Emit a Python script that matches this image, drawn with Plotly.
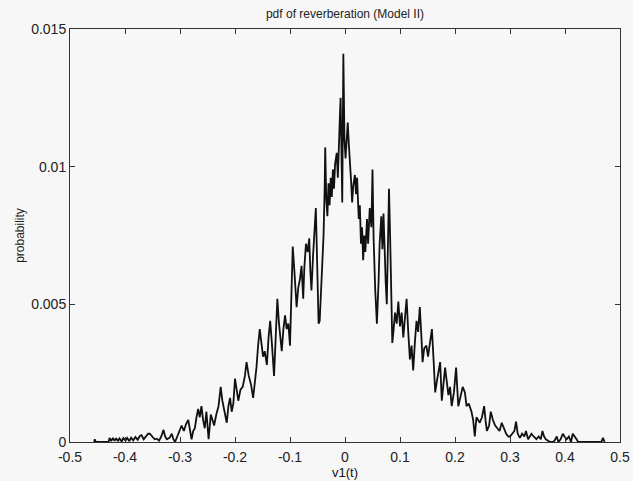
import plotly.graph_objects as go

# Estimated pdf samples (v1(t), probability)
v1 = [
    -0.456, -0.455, -0.453, -0.430, -0.428, -0.425, -0.422, -0.419, -0.416, -0.413,
    -0.410, -0.406, -0.403, -0.399, -0.396, -0.392, -0.389, -0.385, -0.381, -0.377,
    -0.373, -0.370, -0.366, -0.362, -0.358, -0.355, -0.351, -0.346, -0.342, -0.338,
    -0.334, -0.330, -0.327, -0.324, -0.319, -0.315, -0.312, -0.309, -0.305, -0.301,
    -0.297, -0.293, -0.289, -0.285, -0.282, -0.279, -0.276, -0.273, -0.270, -0.267,
    -0.264, -0.261, -0.258, -0.255, -0.252, -0.248, -0.244, -0.241, -0.238, -0.234,
    -0.230, -0.226, -0.223, -0.219, -0.215, -0.212, -0.209, -0.206, -0.203, -0.200,
    -0.197, -0.194, -0.190, -0.186, -0.182, -0.179, -0.175, -0.171, -0.167, -0.164,
    -0.161, -0.158, -0.155, -0.152, -0.149, -0.146, -0.142, -0.139, -0.136, -0.133,
    -0.129, -0.126, -0.123, -0.120, -0.117, -0.115, -0.112, -0.109, -0.106, -0.103,
    -0.100, -0.097, -0.095, -0.092, -0.090, -0.088, -0.085, -0.082, -0.079, -0.076,
    -0.074, -0.071, -0.068, -0.065, -0.063, -0.061, -0.058, -0.055, -0.053, -0.051,
    -0.048, -0.046, -0.043, -0.041, -0.039, -0.037, -0.036, -0.034, -0.032, -0.030,
    -0.028, -0.026, -0.024, -0.022, -0.020, -0.018, -0.015, -0.013, -0.011, -0.009,
    -0.008, -0.006, -0.005, -0.003, -0.001, 0.001, 0.003, 0.005, 0.007, 0.009,
    0.011, 0.013, 0.015, 0.018, 0.020, 0.022, 0.025, 0.027, 0.029, 0.031,
    0.033, 0.035, 0.037, 0.040, 0.042, 0.045, 0.048, 0.050, 0.052, 0.055,
    0.058, 0.061, 0.063, 0.066, 0.068, 0.070, 0.072, 0.074, 0.076, 0.078,
    0.080, 0.082, 0.084, 0.086, 0.088, 0.091, 0.094, 0.097, 0.100, 0.103,
    0.106, 0.109, 0.112, 0.115, 0.118, 0.121, 0.124, 0.127, 0.130, 0.133,
    0.136, 0.139, 0.141, 0.144, 0.148, 0.151, 0.155, 0.158, 0.161, 0.164,
    0.167, 0.170, 0.173, 0.176, 0.179, 0.182, 0.185, 0.188, 0.191, 0.194,
    0.198, 0.202, 0.206, 0.210, 0.214, 0.218, 0.221, 0.225, 0.230, 0.233,
    0.236, 0.239, 0.242, 0.245, 0.249, 0.253, 0.256, 0.258, 0.262, 0.265,
    0.269, 0.273, 0.277, 0.281, 0.285, 0.289, 0.293, 0.297, 0.300, 0.304,
    0.308, 0.311, 0.314, 0.318, 0.322, 0.326, 0.329, 0.333, 0.336, 0.339,
    0.343, 0.348, 0.352, 0.356, 0.359, 0.362, 0.365, 0.369, 0.373, 0.378,
    0.381, 0.385, 0.388, 0.392, 0.396, 0.399, 0.403, 0.407, 0.411, 0.414,
    0.418, 0.421, 0.424, 0.466, 0.469, 0.472,
]
probability = [
    0.0, 0.0001, 0.0, 0.0, 0.00015, 0.00003, 0.00015, 0.00004, 0.00014, 0.00003,
    0.00013, 0.00002, 0.00014, 0.00005, 0.00015, 0.00003, 0.00016, 0.00006, 0.00018, 0.00008,
    0.00022, 0.00025, 0.0001, 0.0002, 0.0003, 0.0003, 0.00022, 0.0001, 0.00012, 0.00005,
    0.0002, 0.00044, 0.0002, 0.0001, 0.00015, 0.0003, 0.0001, 0.0, 0.0002, 0.0004,
    0.0006, 0.0004, 0.00065, 0.0008, 0.0004, 0.0001, 0.0004, 0.0005, 0.0009, 0.0012,
    0.0009, 0.0013, 0.0008, 0.0005, 0.0011, 0.0001, 0.001, 0.0008, 0.0006, 0.001,
    0.0013, 0.002, 0.0015, 0.0011, 0.0007, 0.0013, 0.0016, 0.0011, 0.0014, 0.0023,
    0.0018, 0.0015, 0.0019, 0.002, 0.0024, 0.0029, 0.0024, 0.0021, 0.0016, 0.0021,
    0.0027, 0.0035, 0.0041, 0.0036, 0.0031, 0.0033, 0.0028, 0.0038, 0.0044, 0.0036,
    0.0024, 0.0038, 0.0052, 0.0043, 0.0036, 0.0033, 0.0041, 0.0046, 0.0041, 0.0043,
    0.0035, 0.0058, 0.0071, 0.0062, 0.0055, 0.0049, 0.0056, 0.0059, 0.0064, 0.0052,
    0.0063, 0.0072, 0.0069, 0.0074, 0.0062, 0.0055, 0.0068, 0.0079, 0.0085, 0.0068,
    0.0043, 0.0044, 0.0058, 0.0069, 0.0075, 0.0092, 0.0107, 0.0088, 0.0082, 0.0094,
    0.0086, 0.0096, 0.0089, 0.0099, 0.0092, 0.0101, 0.0105, 0.0096, 0.0112, 0.0120,
    0.0125, 0.0100, 0.0087, 0.0141, 0.0110, 0.0103, 0.0112, 0.0116, 0.0108, 0.0103,
    0.0095, 0.0087, 0.0093, 0.0097, 0.0090, 0.0096, 0.0081, 0.0086, 0.0072, 0.0078,
    0.0066, 0.0075, 0.0069, 0.0081, 0.0072, 0.0085, 0.0078, 0.0099, 0.0074, 0.0055,
    0.0043, 0.0058, 0.0072, 0.0082, 0.0070, 0.0083, 0.0065, 0.0058, 0.0050, 0.0072,
    0.0092, 0.0075, 0.0048, 0.0036, 0.0040, 0.0047, 0.0043, 0.0051, 0.0042, 0.0047,
    0.0038, 0.0045, 0.0052, 0.0040, 0.0030, 0.0035, 0.0026, 0.0036, 0.0044, 0.0040,
    0.0049, 0.0038, 0.0029, 0.0034, 0.0035, 0.0031, 0.0036, 0.0041, 0.0030, 0.0018,
    0.0022, 0.0026, 0.0029, 0.0015, 0.0021, 0.0027, 0.0022, 0.0017, 0.0020, 0.0013,
    0.0018, 0.0027, 0.0013, 0.0017, 0.0020, 0.0018, 0.0013, 0.0014, 0.0011, 0.0008,
    0.0002, 0.0009, 0.0008, 0.0007, 0.0009, 0.0013, 0.0007, 0.0004, 0.0006, 0.0011,
    0.0008, 0.0006, 0.0005, 0.0004, 0.0007, 0.0005, 0.0003, 0.0002, 0.0002, 0.0003,
    0.0004, 0.00074, 0.0003, 0.00015, 0.0003, 0.0002, 0.0004, 0.0001, 0.0002, 0.0003,
    0.0002, 0.0001, 0.0002, 0.0001, 0.0004, 0.0002, 0.0001, 0.00005, 0.0, 0.0,
    0.00005, 0.0002, 0.0, 0.0001, 0.0003, 0.0002, 0.0001, 0.0002, 0.0, 0.0003,
    0.0002, 0.0001, 0.0, 0.0, 0.00015, 0.0,
]

x_ticks = [-0.5, -0.4, -0.3, -0.2, -0.1, 0, 0.1, 0.2, 0.3, 0.4, 0.5]
x_tick_text = ["-0.5", "-0.4", "-0.3", "-0.2", "-0.1", "0", "0.1", "0.2", "0.3", "0.4", "0.5"]
y_ticks = [0, 0.005, 0.01, 0.015]
y_tick_text = ["0", "0.005", "0.01", "0.015"]

FONT = "Liberation Sans, Arial, Helvetica, sans-serif"
BG = "#f7f7f7"

fig = go.Figure()
fig.add_trace(go.Scatter(x=v1, y=probability, mode="lines",
                         line=dict(color="#111111", width=1.8),
                         showlegend=False, hoverinfo="skip"))

axis_common = dict(showline=True, linecolor="#333333", linewidth=1, mirror="ticks",
                   ticks="inside", ticklen=5, tickcolor="#333333", tickwidth=1,
                   showgrid=False, zeroline=False, automargin=False,
                   tickfont=dict(family=FONT, size=14, color="#222222"))

fig.update_layout(
    width=633, height=481,
    margin=dict(l=70, r=13, t=29, b=39),
    paper_bgcolor=BG, plot_bgcolor=BG,
    title=dict(text="pdf of reverberation (Model II)", x=0.545, xanchor="center",
               y=1 - 14 / 481, yanchor="middle",
               font=dict(family=FONT, size=12, color="#222222")),
    xaxis=dict(range=[-0.5, 0.5], tickvals=x_ticks, ticktext=x_tick_text,
               ticklabelstandoff=2,
               title=dict(text="v1(t)", font=dict(family=FONT, size=13, color="#111111"),
                          standoff=0),
               **axis_common),
    yaxis=dict(range=[0, 0.015], tickvals=y_ticks, ticktext=y_tick_text,
               title=dict(text="probability", font=dict(family=FONT, size=12, color="#222222"),
                          standoff=3),
               **axis_common),
)

fig.write_html("out.html")
